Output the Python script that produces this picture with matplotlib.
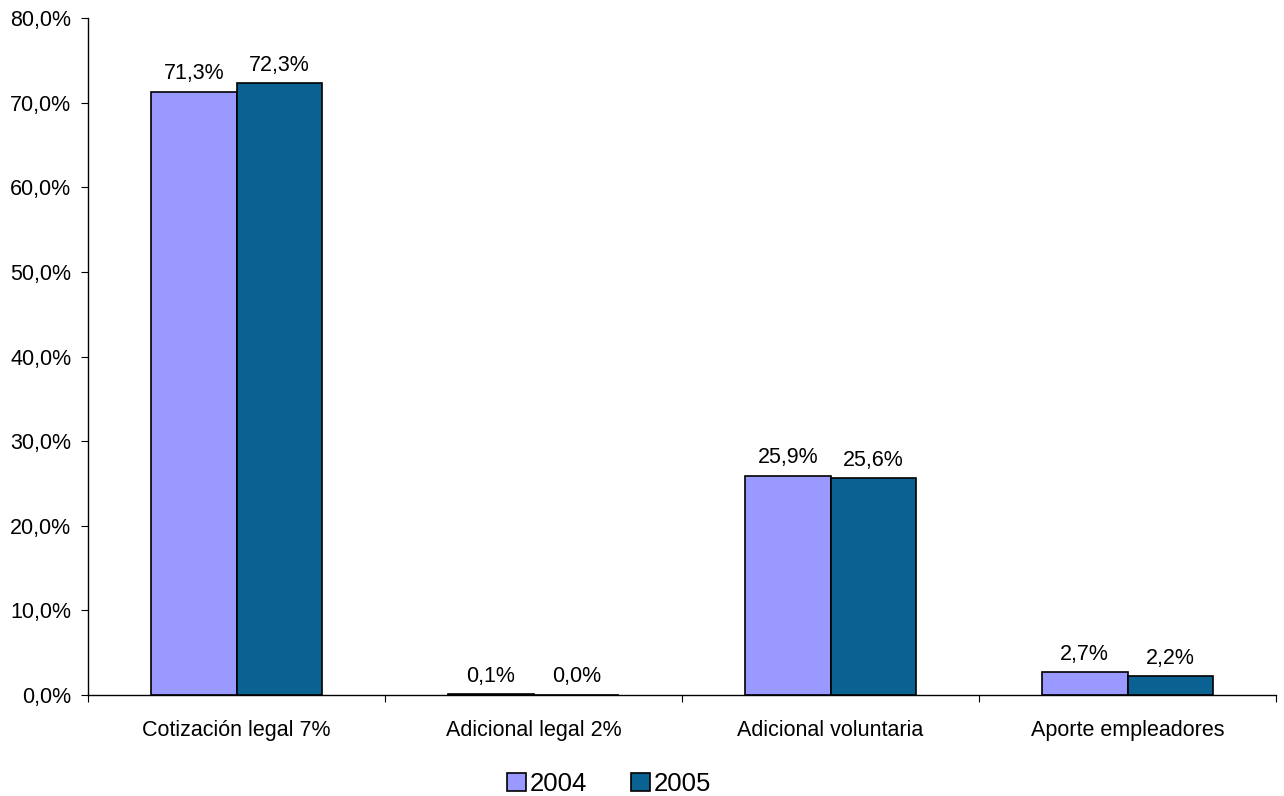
import matplotlib
matplotlib.use("Agg")
import matplotlib.pyplot as plt
import numpy as np

categories = ["Cotización legal 7%", "Adicional legal 2%", "Adicional voluntaria", "Aporte empleadores"]
series_names = ["2004", "2005"]
values_2004 = [71.3, 0.1, 25.9, 2.7]
values_2005 = [72.3, 0.0, 25.6, 2.2]
colors = ["#9999FF", "#0A6292"]

plt.rcParams['font.family'] = ['Liberation Sans', 'DejaVu Sans']

fig = plt.figure(figsize=(12.84, 7.96), dpi=100)
ax = fig.add_axes([88/1284, 1-695/796, 1188/1284, (695-18)/796])

x = np.arange(len(categories))
w = 0.288
for i, (vals, name) in enumerate(zip([values_2004, values_2005], series_names)):
    pos = x + (i - 0.5) * w
    ax.bar(pos, vals, width=w, color=colors[i], edgecolor="black", linewidth=1.2, label=name)
    for p, v in zip(pos, vals):
        ax.annotate(f"{v:.1f}%".replace(".", ","), (p, v), xytext=(0, 5.5), textcoords="offset points",
                    ha="center", va="bottom", fontsize=15.5)

ax.set_xlim(-0.5, len(categories) - 0.5)
ax.set_ylim(0, 80)
ax.set_yticks(np.arange(0, 81, 10))
ax.set_yticklabels([f"{t:.1f}%".replace(".", ",") for t in np.arange(0, 81, 10)], fontsize=15.5)
ax.set_xticks(np.arange(-0.5, len(categories), 1.0))
ax.set_xticklabels([])
ax.set_xticks(x, minor=True)
ax.set_xticklabels(categories, minor=True, fontsize=15.5)
ax.tick_params(axis="x", which="minor", length=0, pad=18)
ax.tick_params(axis="x", which="major", length=5, direction="out")
ax.tick_params(axis="y", length=5, direction="out", pad=7)
for s in ["top", "right"]:
    ax.spines[s].set_visible(False)
ax.spines["left"].set_linewidth(1.0)
ax.spines["bottom"].set_linewidth(1.0)

leg = fig.legend(loc="center", bbox_to_anchor=(609/1284, 1-784/796), ncol=2, frameon=False,
                 fontsize=18.5, handlelength=0.75, handleheight=0.75, handletextpad=0.15, columnspacing=1.7,
                 borderpad=0.1)

fig.savefig("out.png", dpi=100)
